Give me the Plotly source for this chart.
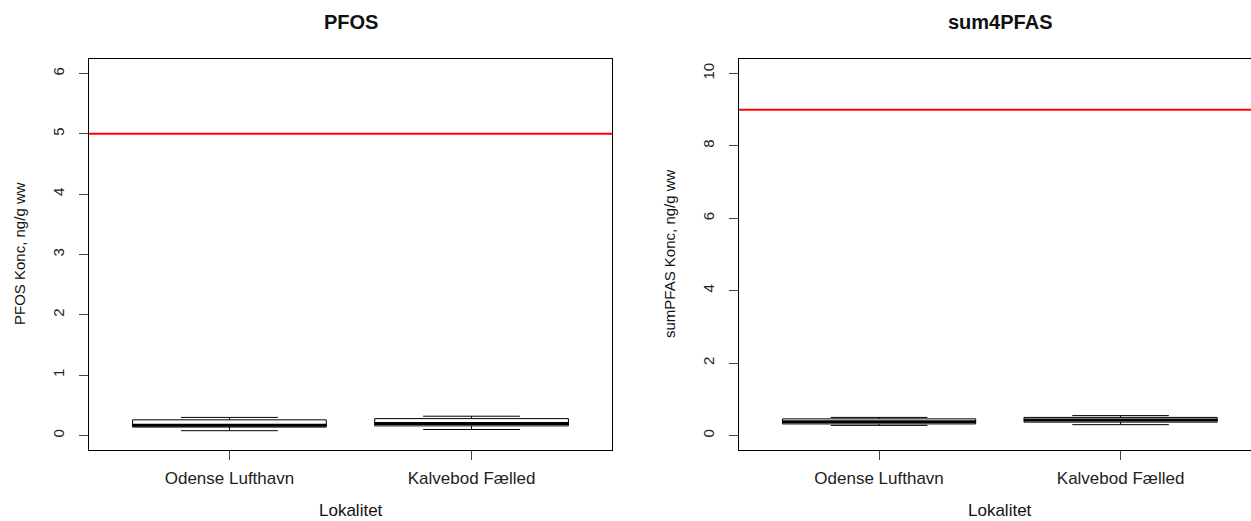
import plotly.graph_objects as go

# ---- data ----
categories = ["Odense Lufthavn", "Kalvebod Fælled"]
positions = [1, 2]

pfos_lower = [0.08, 0.10]
pfos_q1 = [0.14, 0.16]
pfos_median = [0.17, 0.20]
pfos_q3 = [0.26, 0.28]
pfos_upper = [0.30, 0.32]

sum_lower = [0.28, 0.30]
sum_q1 = [0.32, 0.37]
sum_median = [0.38, 0.43]
sum_q3 = [0.46, 0.50]
sum_upper = [0.50, 0.55]

pfos_limit = 5
sum_limit = 9

pfos_ticks = [0, 1, 2, 3, 4, 5, 6]
sum_ticks = [0, 2, 4, 6, 8, 10]

# ---- layout geometry ----
W, H = 1251, 521
FONT = "Liberation Sans, Arial, Helvetica, sans-serif"
BOXW = 0.8


def px_x(p):
    return p / W


def px_y(p):
    return (H - p) / H


fig = go.Figure()


def add_panel(xa, ya, lower, q1, med, q3, upper):
    for i, pos in enumerate(positions):
        fig.add_trace(go.Box(
            x=[pos], q1=[q1[i]], median=[med[i]], q3=[q3[i]],
            lowerfence=[lower[i]], upperfence=[upper[i]],
            width=BOXW, whiskerwidth=0.5,
            fillcolor="white", line=dict(color="black", width=1),
            boxpoints=False, xaxis=xa, yaxis=ya, showlegend=False,
            hoverinfo="skip",
        ))
        # thick median line as in R boxplot
        fig.add_trace(go.Scatter(
            x=[pos - BOXW / 2, pos + BOXW / 2], y=[med[i], med[i]],
            mode="lines", line=dict(color="black", width=3),
            xaxis=xa, yaxis=ya, showlegend=False, hoverinfo="skip",
        ))


add_panel("x", "y", pfos_lower, pfos_q1, pfos_median, pfos_q3, pfos_upper)
add_panel("x2", "y2", sum_lower, sum_q1, sum_median, sum_q3, sum_upper)

ydom = [px_y(450), px_y(59)]
common_x = dict(
    tickmode="array", tickvals=positions, ticktext=categories,
    ticks="outside", ticklen=9, tickcolor="#444", showgrid=False, zeroline=False,
    showline=True, linecolor="black", linewidth=1, mirror=True,
    tickfont=dict(family=FONT, size=17, color="#222"), ticklabelstandoff=4,
)
common_y = dict(
    ticks="outside", ticklen=9, tickcolor="#444", showgrid=False, zeroline=False,
    showline=True, linecolor="black", linewidth=1, tickangle=-90,
    tickfont=dict(family=FONT, size=15, color="#222"), ticklabelstandoff=9,
    domain=ydom,
)

fig.update_layout(
    width=W, height=H,
    margin=dict(l=0, r=0, t=0, b=0),
    paper_bgcolor="white", plot_bgcolor="white",
    showlegend=False,
    font=dict(family=FONT, color="black"),
    xaxis=dict(domain=[px_x(89), px_x(612)], range=[0.42, 2.58], anchor="y", **common_x),
    yaxis=dict(range=[-0.24, 6.24], tickvals=pfos_ticks, anchor="x", mirror=True, **common_y),
    xaxis2=dict(domain=[px_x(739), 1.0], range=[0.42, 2.54], anchor="y2", **common_x),
    yaxis2=dict(range=[-0.4, 10.4], tickvals=sum_ticks, anchor="x2", mirror=False, **common_y),
    shapes=[
        dict(type="line", xref="x domain", yref="y", x0=0, x1=1,
             y0=pfos_limit, y1=pfos_limit, line=dict(color="#ff0000", width=2)),
        dict(type="line", xref="x2 domain", yref="y2", x0=0, x1=1,
             y0=sum_limit, y1=sum_limit, line=dict(color="#ff0000", width=2)),
    ],
)

annots = [
    dict(text="<b>PFOS</b>", x=px_x(351), y=px_y(22), size=20, angle=0),
    dict(text="<b>sum4PFAS</b>", x=px_x(1000), y=px_y(22), size=20, angle=0),
    dict(text="PFOS Konc, ng/g ww", x=px_x(19), y=px_y(254), size=15, angle=-90),
    dict(text="sumPFAS Konc, ng/g ww", x=px_x(669), y=px_y(254), size=15, angle=-90),
    dict(text="Lokalitet", x=px_x(350.5), y=px_y(510), size=17, angle=0),
    dict(text="Lokalitet", x=px_x(999.5), y=px_y(510), size=17, angle=0),
]
for a in annots:
    fig.add_annotation(
        text=a["text"], x=a["x"], y=a["y"], xref="paper", yref="paper",
        xanchor="center", yanchor="middle", showarrow=False, textangle=a["angle"],
        font=dict(family=FONT, size=a["size"], color="#111"),
    )

fig.write_html("out.html")
